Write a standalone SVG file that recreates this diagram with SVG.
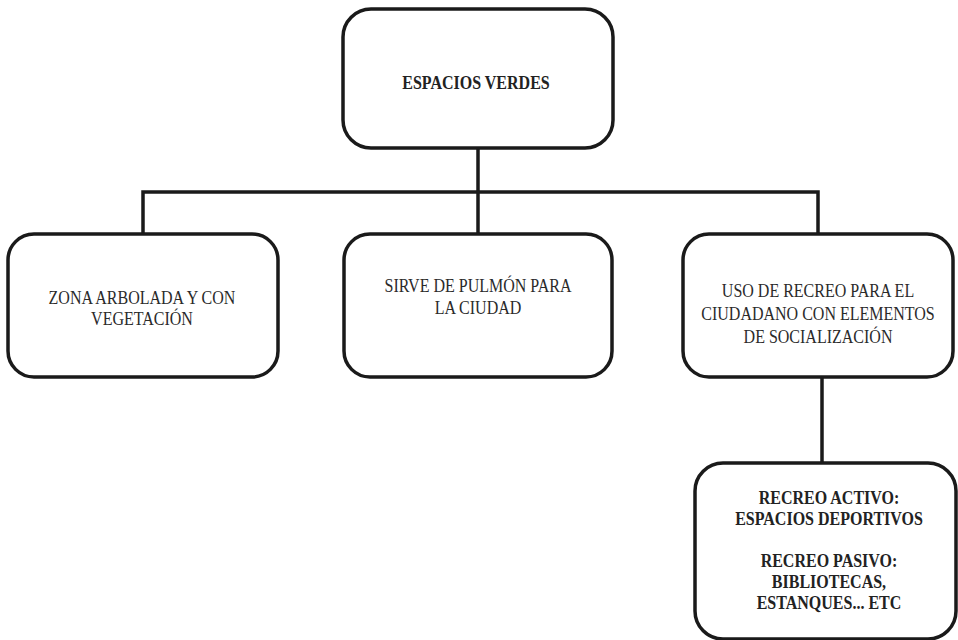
<svg xmlns="http://www.w3.org/2000/svg" width="958" height="640" viewBox="0 0 958 640">
  <style>
    .box { fill: #ffffff; stroke: #1a1a1a; stroke-width: 3.5; }
    .conn { fill: none; stroke: #1a1a1a; stroke-width: 3.5; }
    .t { font-family: "Liberation Serif", "Times New Roman", serif; font-size: 18px; fill: #2a2a2a; text-anchor: middle; }
    .b { font-weight: bold; fill: #222222; }
  </style>
  <rect width="958" height="640" fill="#ffffff"/>
  <g id="connectors">
    <line class="conn" x1="478" y1="148" x2="478" y2="192"/>
    <polyline class="conn" points="143,234 143,192 818,192 818,234"/>
    <line class="conn" x1="478" y1="192" x2="478" y2="234"/>
    <line class="conn" x1="822" y1="377" x2="822" y2="463"/>
  </g>
  <g id="node-espacios-verdes">
    <rect class="box" x="343" y="9" width="270" height="139" rx="28" ry="28"/>
    <text class="t b" transform="translate(476,89) scale(0.89,1)">ESPACIOS VERDES</text>
  </g>
  <g id="node-zona-arbolada">
    <rect class="box" x="8" y="234" width="270" height="143" rx="26" ry="26"/>
    <text class="t" transform="translate(142,304) scale(0.89,1)">ZONA ARBOLADA Y CON</text>
    <text class="t" transform="translate(142,325) scale(0.89,1)">VEGETACIÓN</text>
  </g>
  <g id="node-pulmon">
    <rect class="box" x="344" y="234" width="268" height="143" rx="26" ry="26"/>
    <text class="t" transform="translate(478,292) scale(0.89,1)">SIRVE DE PULMÓN PARA</text>
    <text class="t" transform="translate(478,314) scale(0.89,1)">LA CIUDAD</text>
  </g>
  <g id="node-recreo">
    <rect class="box" x="683" y="234" width="270" height="143" rx="26" ry="26"/>
    <text class="t" transform="translate(818,297) scale(0.89,1)">USO DE RECREO PARA EL</text>
    <text class="t" transform="translate(818,320) scale(0.89,1)">CIUDADANO CON ELEMENTOS</text>
    <text class="t" transform="translate(818,343) scale(0.89,1)">DE SOCIALIZACIÓN</text>
  </g>
  <g id="node-tipos-recreo">
    <rect class="box" x="695" y="463" width="261" height="176" rx="28" ry="28"/>
    <text class="t b" transform="translate(829,504) scale(0.89,1)">RECREO ACTIVO:</text>
    <text class="t b" transform="translate(829,525) scale(0.89,1)">ESPACIOS DEPORTIVOS</text>
    <text class="t b" transform="translate(829,567) scale(0.89,1)">RECREO PASIVO:</text>
    <text class="t b" transform="translate(829,588) scale(0.89,1)">BIBLIOTECAS,</text>
    <text class="t b" transform="translate(829,609) scale(0.89,1)">ESTANQUES... ETC</text>
  </g>
</svg>
